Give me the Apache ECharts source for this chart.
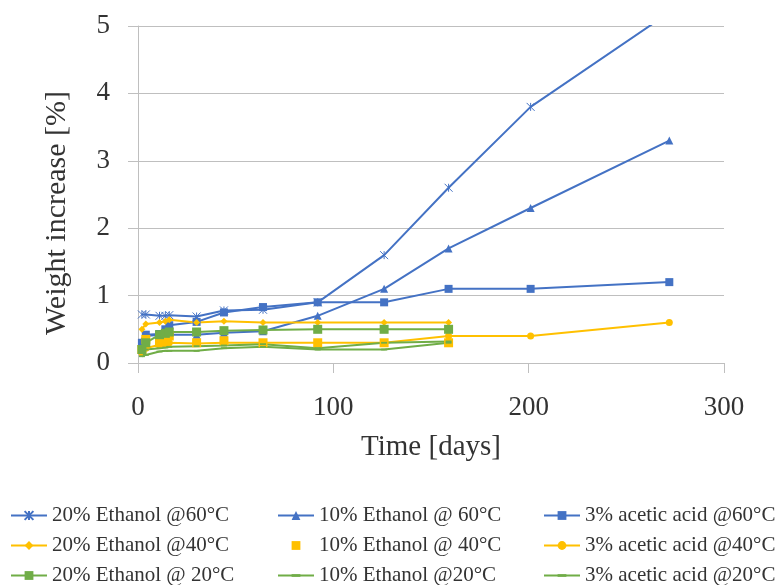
<!DOCTYPE html>
<html>
<head>
<meta charset="utf-8">
<script src="https://cdn.jsdelivr.net/npm/echarts@6/dist/echarts.min.js"></script>
<style>html,body{margin:0;padding:0;background:#fff}#c{width:779px;height:585px}</style>
</head>
<body>
<div id="c"></div>
<script>
// Time points (days)
const days = [2, 4, 11, 14, 16, 30, 44, 64, 92, 126, 159, 201, 272];
// Series values (weight increase %)
const e20_60 = [0.72, 0.72, 0.70, 0.70, 0.71, 0.69, 0.78, 0.79, 0.9, 1.6, 2.6, 3.8, 5.2];
const e10_60 = [0.33, 0.40, 0.42, 0.42, 0.42, 0.42, 0.45, 0.47, 0.7, 1.1, 1.7, 2.3, 3.3];
const aa_60  = [0.30, 0.42, 0.43, 0.50, 0.56, 0.61, 0.75, 0.83, 0.9, 0.9, 1.1, 1.1, 1.2];
const e20_40 = [0.50, 0.58, 0.60, 0.62, 0.64, 0.60, 0.62, 0.60, 0.6, 0.6, 0.6];
const e10_40 = [0.20, 0.35, 0.30, 0.38, 0.40, 0.30, 0.33, 0.30, 0.3, 0.3, 0.3];
const aa_40  = [0.15, 0.22, 0.27, 0.28, 0.30, 0.29, 0.30, 0.30, 0.3, 0.3, 0.4, 0.4, 0.6];
const e20_20 = [0.20, 0.30, 0.42, 0.44, 0.46, 0.46, 0.48, 0.49, 0.5, 0.5, 0.5];
const e10_20 = [0.10, 0.12, 0.17, 0.18, 0.18, 0.18, 0.22, 0.24, 0.2, 0.2, 0.3];
const aa_20  = [0.15, 0.20, 0.22, 0.23, 0.24, 0.25, 0.26, 0.28, 0.22, 0.3, 0.32];
const names = [
  '20% Ethanol @60°C', '10% Ethanol @ 60°C', '3% acetic acid @60°C',
  '20% Ethanol @40°C', '10% Ethanol @ 40°C', '3% acetic acid @40°C',
  '20% Ethanol @ 20°C', '10% Ethanol @20°C', '3% acetic acid @20°C'
];
const xTicks = [0, 100, 200, 300];
const yTicks = [0, 1, 2, 3, 4, 5];

const BLUE = '#4472C4', YEL = '#FFC000', GRN = '#70AD47';
const FONT = 'Liberation Serif';
const star = 'path://M0,0L10,10M10,0L0,10M5,0L5,10';
const dash = 'path://M0,0M0,3.5L10,3.5L10,6.5L0,6.5ZM10,10';

function pairs(vals) { return vals.map((v, i) => [days[i], v]); }

function mk(name, vals, color, symbol, size, noLine) {
  return {
    name, type: 'line', data: pairs(vals), symbol, symbolSize: size,
    lineStyle: { color, width: noLine ? 0 : 2, opacity: noLine ? 0 : 1 },
    itemStyle: symbol === star
      ? { color: 'none', borderColor: color, borderWidth: 1 }
      : { color, borderColor: color, borderWidth: 0 },
    emphasis: { disabled: true }, animation: false, clip: true
  };
}

const series = [
  mk(names[0], e20_60, BLUE, star, 8),
  mk(names[1], e10_60, BLUE, 'triangle', 8),
  mk(names[2], aa_60, BLUE, 'rect', 8),
  mk(names[3], e20_40, YEL, 'diamond', 7),
  mk(names[4], e10_40, YEL, 'rect', 9, true),
  mk(names[5], aa_40, YEL, 'circle', 7),
  mk(names[6], e20_20, GRN, 'rect', 9),
  mk(names[7], e10_20, GRN, dash, 6),
  mk(names[8], aa_20, GRN, dash, 6)
];

const legendBase = {
  orient: 'vertical', top: 505, height: 100, padding: 0,
  itemWidth: 36, itemHeight: 11, itemGap: 9,
  textStyle: { fontFamily: FONT, fontSize: 21, lineHeight: 20, color: '#333' },
  selectedMode: false
};

const chart = echarts.init(document.getElementById('c'), null, { renderer: 'canvas' });
chart.setOption({
  animation: false,
  grid: { left: 138, right: 55, top: 26, bottom: 222, containLabel: false },
  xAxis: {
    type: 'value', min: xTicks[0], max: xTicks[xTicks.length - 1], interval: 100,
    name: 'Time [days]', nameLocation: 'middle', nameGap: 70,
    nameTextStyle: { fontFamily: FONT, fontSize: 29, color: '#333' },
    axisLine: { show: true, lineStyle: { color: '#bfbfbf', width: 1 } },
    axisTick: { show: true, length: 10, lineStyle: { color: '#bfbfbf' } },
    axisLabel: { fontFamily: FONT, fontSize: 27, color: '#333', margin: 31 },
    splitLine: { show: false }
  },
  yAxis: {
    type: 'value', min: yTicks[0], max: yTicks[yTicks.length - 1], interval: 1,
    name: 'Weight increase [%]', nameLocation: 'middle', nameGap: 66,
    nameTextStyle: { fontFamily: FONT, fontSize: 30, color: '#333', padding: [0, 37, 0, 0] },
    axisLine: { show: true, lineStyle: { color: '#bfbfbf', width: 1 } },
    axisTick: { show: true, length: 10, lineStyle: { color: '#bfbfbf' } },
    axisLabel: { fontFamily: FONT, fontSize: 27, color: '#333', margin: 28 },
    splitLine: { show: true, lineStyle: { color: '#bfbfbf', width: 1 } }
  },
  legend: [
    Object.assign({}, legendBase, { left: 10, data: [names[0], names[3], names[6]] }),
    Object.assign({}, legendBase, { left: 277, data: [names[1], names[4], names[7]] }),
    Object.assign({}, legendBase, { left: 543, data: [names[2], names[5], names[8]] })
  ],
  series
});
</script>
</body>
</html>
